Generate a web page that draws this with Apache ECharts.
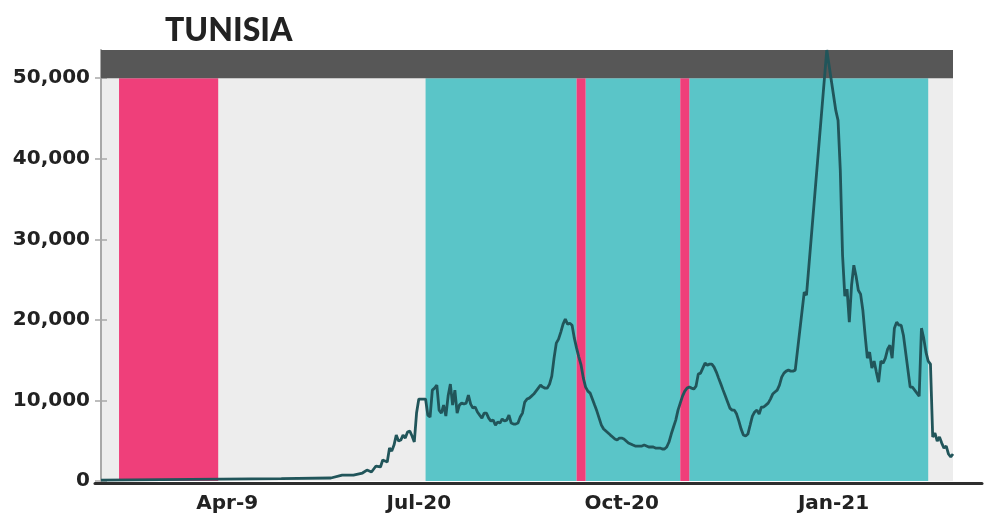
<!DOCTYPE html>
<html><head><meta charset="utf-8">
<script src="https://cdn.jsdelivr.net/npm/echarts@6/dist/echarts.min.js"></script>
<style>html,body{margin:0;padding:0;background:#fff}#c{width:986px;height:528px}</style>
</head><body><div id="c"></div>
<script>
const chartTitle = 'TUNISIA';
// day index (0 = first day shown) and daily value
const dayIndex = [0,40,80,102,107,112,116,118,120,122,124,125,127,128,129,130,131,132,133,134,135,136,137,138,139,140,141,142,143,
144,145,146,147,148,149,150,151,152,153,154,155,156,157,158,159,160,161,162,163,164,165,166,167,168,169,170,171,172,173,174,175,176,177,178,179,180,
181,182,183,184,185,186,187,188,189,190,191,192,193,194,195,196,197,198,199,200,201,202,203,204,205,206,207,208,209,210,211,212,213,214,215,216,217,
218,219,220,221,222,223,224,225,226,227,228,229,230,231,232,233,234,235,236,237,238,239,240,241,242,243,244,245,246,247,248,249,250,251,252,253,254,
255,256,257,258,259,260,261,262,263,264,265,266,267,268,269,270,271,272,273,274,275,276,277,278,279,280,281,282,283,284,285,286,287,288,289,290,291,
292,293,294,295,296,297,298,299,300,301,302,303,304,305,306,307,308,312,313,322,326,327,328,329,330,331,332,333,334,335,336,337,338,339,340,341,342,
343,344,345,346,347,348,349,350,351,352,353,354,355,356,359,360,363,364,365,366,367,368,369,370,371,372,373,374,375,376,377,378];
const dailyValues = [100,200,300,370,740,740,990,1360,1120,1860,1740,2600,2360,4090,3720,4460,5700,4960,5080,5700,5330,6080,6200,5580,4840,8430,10170,10170,10170,
10170,8180,7940,11280,11530,11900,8800,8430,9420,8060,10540,12030,9420,11280,8430,9420,9670,9550,9670,10660,9550,9050,9180,8560,8180,7810,8430,8430,7810,7440,7560,6940,7320,7190,7690,7440,7560,
8180,7190,7070,7070,7190,7940,8430,9800,10170,10290,10540,10790,11160,11530,11900,11660,11530,11530,12030,13020,15250,17110,17610,18480,19470,20090,19470,19590,19340,17730,16490,15380,14380,12770,11660,11160,10910,
10170,9420,8680,7810,6940,6450,6200,5950,5700,5460,5210,5080,5330,5330,5210,4960,4710,4590,4460,4340,4340,4340,4340,4460,4340,4220,4220,4220,4090,4090,4090,3970,3970,4220,4840,5830,6700,
7560,8800,9670,10540,11160,11530,11660,11530,11410,11780,13270,13390,14010,14630,14380,14510,14510,14140,13520,12770,12030,11280,10540,9800,9050,8800,8800,8310,7440,6450,5700,5580,5830,6940,8060,8560,8800,
8310,9180,9180,9420,9670,10170,10790,11040,11280,11900,12900,13390,13640,13760,13640,13640,13760,23440,23060,53500,46000,44760,38560,28020,22940,23810,19720,24300,26780,25420,23680,23190,21200,18100,15250,16000,14010,
14880,13520,12280,14880,14630,15250,16370,16860,15250,18970,19720,19340,19340,18100,11660,11660,10540,18970,17730,16000,14880,14510,5460,5950,4960,5460,4710,4090,4340,3350,2980,3350];
const xRange = [0, 378];
const tickDays = [56, 141, 231, 325];
const tickLabels = ['Apr-9', 'Jul-20', 'Oct-20', 'Jan-21'];
const yTicks = [0, 10000, 20000, 30000, 40000, 50000];
const capBand = [50000, 53500];
const pinkPeriods = [[8, 52], [211, 215], [257, 261]];
const tealPeriods = [[144, 211], [215, 257], [261, 367]];

const PINK = '#ef3f7a', TEAL = '#5ac5c8', CAP = '#575757', BG = '#ededed', LINE = '#21555a';
const labelFont = {fontFamily: 'DejaVu Sans', fontWeight: 'bold', fontSize: 20, color: '#222'};

const areas = [];
tealPeriods.forEach(p => areas.push([{xAxis: p[0], yAxis: 0, itemStyle: {color: TEAL}}, {xAxis: p[1], yAxis: capBand[0]}]));
pinkPeriods.forEach(p => areas.push([{xAxis: p[0], yAxis: 0, itemStyle: {color: PINK}}, {xAxis: p[1], yAxis: capBand[0]}]));
areas.push([{xAxis: xRange[0], yAxis: capBand[0], itemStyle: {color: CAP}}, {xAxis: xRange[1], yAxis: capBand[1]}]);

const chart = echarts.init(document.getElementById('c'), null, {renderer: 'canvas'});
chart.setOption({
  animation: false,
  title: {text: chartTitle, left: 160, top: 10, textStyle: {fontFamily: 'Lato', fontWeight: 900, fontSize: 32, color: '#222'}},
  grid: [
    {left: 101, right: 33, top: 50, bottom: 47, show: true, backgroundColor: BG, borderWidth: 0},
    {left: 95, right: 4, top: 50, bottom: 45}
  ],
  xAxis: [
    {type: 'value', gridIndex: 0, min: xRange[0], max: xRange[1], splitLine: {show: false},
     axisLine: {show: false}, axisTick: {show: false},
     axisLabel: Object.assign({customValues: tickDays, margin: 13,
       formatter: v => tickLabels[tickDays.indexOf(v)] || ''}, labelFont)},
    {type: 'value', gridIndex: 1, min: 0, max: 1, splitLine: {show: false},
     axisLine: {show: true, lineStyle: {color: '#2e2e2e', width: 3}}, axisTick: {show: false}, axisLabel: {show: false}}
  ],
  yAxis: [
    {type: 'value', gridIndex: 0, position: 'left', min: 0, max: capBand[1], splitLine: {show: false},
     axisLine: {show: true, lineStyle: {color: '#a8a8a8', width: 2}},
     axisTick: {show: true, customValues: yTicks, length: 6, lineStyle: {color: '#a8a8a8', width: 1.5}},
     axisLabel: Object.assign({customValues: yTicks, margin: 11,
       formatter: v => v.toLocaleString('en-US')}, labelFont)},
    {type: 'value', gridIndex: 0, position: 'left', min: 0, max: capBand[1], splitLine: {show: false},
     axisLine: {show: false}, axisLabel: {show: false},
     axisTick: {show: true, inside: true, customValues: yTicks, length: 6, lineStyle: {color: '#a8a8a8', width: 1.5}}},
    {type: 'value', gridIndex: 1, show: false}
  ],
  series: [{
    type: 'line', xAxisIndex: 0, yAxisIndex: 0, showSymbol: false, silent: true,
    data: dayIndex.map((d, i) => [d, dailyValues[i]]),
    lineStyle: {color: LINE, width: 2.8}, z: 5,
    markArea: {silent: true, data: areas}
  }]
});
</script></body></html>
